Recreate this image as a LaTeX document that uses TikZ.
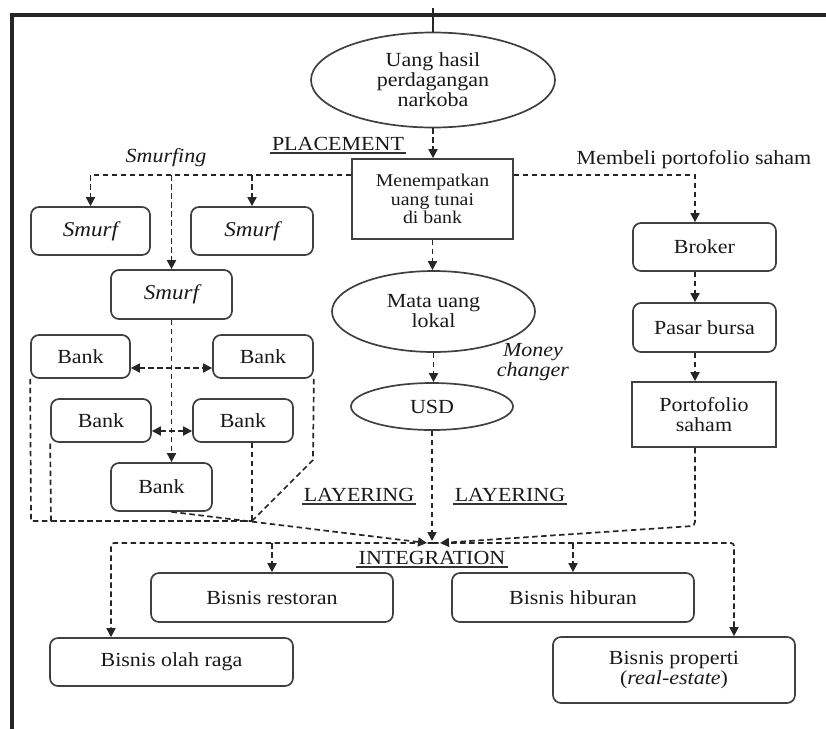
\documentclass[tikz,border=0pt]{standalone}
\usepackage{fontspec}
\setmainfont{Liberation Serif}[FakeStretch=1.1]
\usetikzlibrary{arrows.meta,shapes.geometric}
\begin{document}
\begin{tikzpicture}[x=1pt,y=-1pt,
 every node/.style={font=\fontsize{20}{20}\selectfont, text=black!90},
 box/.style={draw=black!75, line width=1.7pt, inner sep=0pt, align=center},
 rbox/.style={box, rounded corners=8pt},
 ell/.style={box, ellipse},
 dsh/.style={draw=black!85, line width=1.7pt, dash pattern=on 5.5pt off 3.5pt},
 dl/.style={dsh, -{Triangle[length=9pt,width=9pt]}},
 dd/.style={dsh, {Triangle[length=9pt,width=9pt]}-{Triangle[length=9pt,width=9pt]}},
 lbl/.style={inner sep=2pt, align=center},
 ul/.style={append after command={(\tikzlastnode.south west) edge[draw=black!80,line width=1.2pt] (\tikzlastnode.south east)}}
]
\useasboundingbox (0,0) rectangle (826,729);
% frame
\draw[line width=4pt, black!85] (826,15) -- (12,15) -- (12,729);
\coordinate (top) at (433,8);

% nodes
\node[ell, minimum width=244pt, minimum height=95pt] (e1) at (433,80) {Uang hasil\\perdagangan\\narkoba};
\node[box, minimum width=161pt, minimum height=80pt, font=\fontsize{18}{18.5}\selectfont] (m) at (432.5,199) {Menempatkan\\uang tunai\\di bank};

\node[rbox, minimum width=119pt, minimum height=48pt, font=\fontsize{21}{21}\selectfont\itshape] (smurf1) at (90.5,231) {Smurf};
\node[rbox, minimum width=122pt, minimum height=48pt, font=\fontsize{21}{21}\selectfont\itshape] (smurf2) at (252,231) {Smurf};
\node[rbox, minimum width=121pt, minimum height=49pt, font=\fontsize{21}{21}\selectfont\itshape] (smurf3) at (171.5,294.5) {Smurf};

\node[rbox, minimum width=99pt, minimum height=43pt] (bank1) at (80.5,356.5) {Bank};
\node[rbox, minimum width=100pt, minimum height=43pt] (bank2) at (263,356.5) {Bank};
\node[rbox, minimum width=100pt, minimum height=43pt] (bank3) at (101,420.5) {Bank};
\node[rbox, minimum width=100pt, minimum height=43pt] (bank4) at (243,420.5) {Bank};
\node[rbox, minimum width=101pt, minimum height=48pt] (bank5) at (161.5,487) {Bank};

\node[ell, minimum width=203pt, minimum height=81pt] (e2) at (433.5,311.5) {Mata uang\\lokal};
\node[ell, minimum width=162pt, minimum height=47pt] (usd) at (432,406.5) {USD};

\node[rbox, minimum width=143pt, minimum height=48pt] (broker) at (704.5,247) {Broker};
\node[rbox, minimum width=143pt, minimum height=49pt] (pasar) at (704.5,327.5) {Pasar bursa};
\node[box, minimum width=144pt, minimum height=65pt] (porto) at (704,414.5) {Portofolio\\saham};

\node[rbox, minimum width=242pt, minimum height=49pt] (restoran) at (272,597.5) {Bisnis restoran};
\node[rbox, minimum width=242pt, minimum height=49pt] (hiburan) at (573,597.5) {Bisnis hiburan};
\node[rbox, minimum width=243pt, minimum height=48pt] (olah) at (171.5,662) {Bisnis olah raga};
\node[rbox, minimum width=242pt, minimum height=66pt] (properti) at (674,670) {Bisnis properti\\(\textit{real-estate})};

% labels
\node[lbl, ul] (placement) at (338,144) {PLACEMENT};
\node[lbl, font=\fontsize{20}{20}\selectfont\itshape] (smurfing) at (166,158) {Smurfing};
\node[lbl] (membeli) at (694,160) {Membeli portofolio saham};
\node[lbl, font=\fontsize{20}{20}\selectfont\itshape] (money) at (533,362) {Money\\changer};
\node[lbl, ul] (lay1) at (359,495) {LAYERING};
\node[lbl, ul] (lay2) at (510,495) {LAYERING};
\node[lbl, ul] (integ) at (432,558) {INTEGRATION};

% connectors
\draw[line width=1.8pt, black!85] (top) -- (e1.north);
\draw[dl] (e1.south) -- (e1.south |- m.north);

\coordinate (s2) at (252,175);
\coordinate (s3) at (171.5,175);
\draw[dl] ([yshift=24pt]m.west) -| (smurf1.north);
\draw[dl] (s2) -- (smurf2.north);
\draw[dl] (s3) -- (smurf3.north);
\draw[dl] (smurf3.south) -- (bank5.north -| smurf3.south);

\draw[dd] ([yshift=-11.5pt]bank1.east) -- ([yshift=-11.5pt]bank2.west);
\draw[dd] ([yshift=-10.5pt]bank3.east) -- ([yshift=-10.5pt]bank4.west);

\coordinate (b1) at (31,521);
\coordinate (b2) at (51,521);
\coordinate (b3) at (252,521);
\coordinate (b4) at (313,460);
\draw[dsh] (bank1.south west) -- (b1) -- (b2) -- (bank3.south west);
\draw[dsh] (b2) -- (b3);
\draw[dsh] (bank4.south -| b3) -- (b3);
\draw[dsh] (bank2.south east) -- (b4) -- (b3);

\coordinate (C) at (433,543);
\coordinate (cL) at (427,543);
\coordinate (cT) at (433,541);
\coordinate (cR) at (440,543);
\coordinate (iL) at (111,543);
\coordinate (iR) at (734,543);

\draw[dl, rounded corners=3pt] (C) -- (iL) -- (iL |- olah.north);
\draw[dl, rounded corners=3pt] (C) -- (iR) -- (iR |- properti.north);
\draw[dl] (restoran.north |- C) -- (restoran.north);
\draw[dl] (hiburan.north |- C) -- (hiburan.north);

\draw[dl] ([xshift=10pt]bank5.south) -- (cL);
\draw[dl] (usd.south) -- (usd.south |- cT);
\draw[dl, rounded corners=4pt] ([xshift=-9pt]porto.south) -- ++(0,78) -- (cR);

\draw[dl] (m.south) -- (m.south |- e2.north);
\draw[dl] (e2.south) -- (e2.south |- usd.north);

\draw[dl] ([yshift=24pt]m.east) -| ([xshift=-9.5pt]broker.north);
\draw[dl] ([xshift=-9.5pt]broker.south) -- ([xshift=-9.5pt]pasar.north);
\draw[dl] ([xshift=-9.5pt]pasar.south) -- ([xshift=-9pt]porto.north);
\end{tikzpicture}
\end{document}
